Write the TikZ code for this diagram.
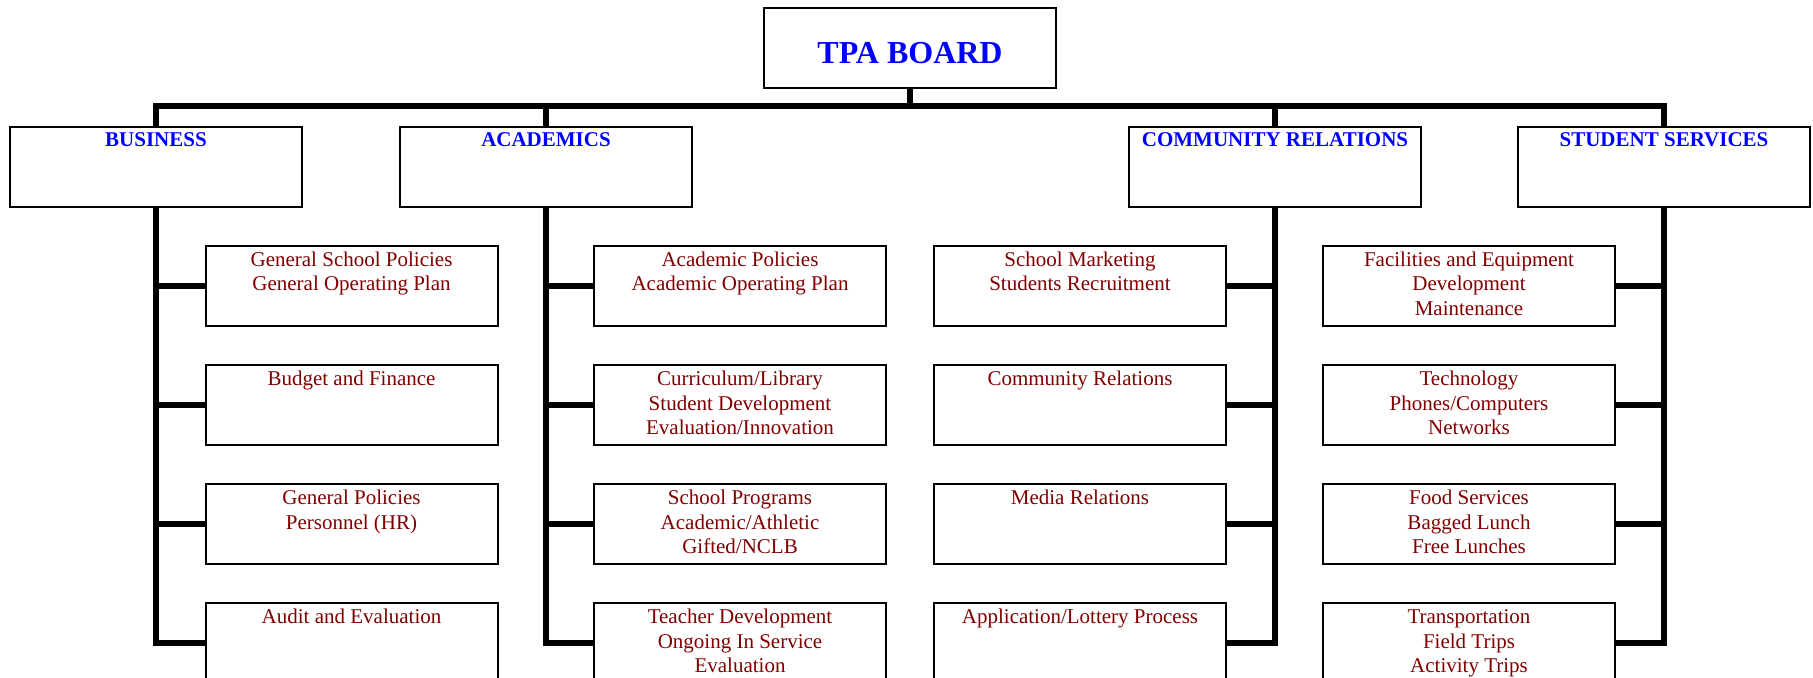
\documentclass[tikz,border=0pt]{standalone}
\usepackage{fontspec}
\setmainfont{Liberation Serif}
\definecolor{itemred}{RGB}{128,0,0}
\definecolor{headblue}{RGB}{0,0,255}
\newcommand\lns[1]{\begin{tabular}[t]{@{}c@{}}#1\end{tabular}}
\tikzset{
  box/.style={draw, line width=1pt, minimum width=146pt, minimum height=40pt, inner sep=0pt, anchor=north west, fill=white},
  conn/.style={line width=2.8pt},
  headtxt/.style={text=headblue, font=\bfseries\fontsize{10.5}{12.4}\selectfont, anchor=base, inner sep=0pt},
  boardtxt/.style={text=headblue, font=\bfseries\fontsize{16}{19}\selectfont, anchor=base, inner sep=0pt},
  itemtxt/.style={text=itemred, font=\fontsize{10.5}{12.4}\selectfont, anchor=base, inner sep=0pt},
}
\begin{document}
\begin{tikzpicture}[x=0.5pt,y=-0.5pt]
\useasboundingbox (0,0) rectangle (1813,678);
\clip (0,0) rectangle (1813,678);
% board
\node[box] (tpa) at (763,7.5) {};
\node[boardtxt] (tpat) at ([yshift=-28pt]tpa.north) {TPA BOARD};
% heads
\node[box] (bh) at (9,126) {};
\node[box] (ah) at (399,126) {};
\node[box] (ch) at (1128,126) {};
\node[box] (sh) at (1517,126) {};
\node[headtxt] (bht) at ([yshift=-10.4pt]bh.north) {BUSINESS};
\node[headtxt] (aht) at ([yshift=-10.4pt]ah.north) {ACADEMICS};
\node[headtxt] (cht) at ([yshift=-10.4pt]ch.north) {COMMUNITY RELATIONS};
\node[headtxt] (sht) at ([yshift=-10.4pt]sh.north) {STUDENT SERVICES};
% business children
\node[box] (b1) at (204.5,245) {};
\node[box] (b2) at (204.5,364) {};
\node[box] (b3) at (204.5,483) {};
\node[box] (b4) at (204.5,602) {};
\node[itemtxt] (b1t) at ([yshift=-10.6pt]b1.north) {\lns{General School Policies\\General Operating Plan}};
\node[itemtxt] (b2t) at ([yshift=-10.6pt]b2.north) {\lns{Budget and Finance}};
\node[itemtxt] (b3t) at ([yshift=-10.6pt]b3.north) {\lns{General Policies\\Personnel (HR)}};
\node[itemtxt] (b4t) at ([yshift=-10.6pt]b4.north) {\lns{Audit and Evaluation}};
% academics children
\node[box] (a1) at (593,245) {};
\node[box] (a2) at (593,364) {};
\node[box] (a3) at (593,483) {};
\node[box] (a4) at (593,602) {};
\node[itemtxt] (a1t) at ([yshift=-10.6pt]a1.north) {\lns{Academic Policies\\Academic Operating Plan}};
\node[itemtxt] (a2t) at ([yshift=-10.6pt]a2.north) {\lns{Curriculum/Library\\Student Development\\Evaluation/Innovation}};
\node[itemtxt] (a3t) at ([yshift=-10.6pt]a3.north) {\lns{School Programs\\Academic/Athletic\\Gifted/NCLB}};
\node[itemtxt] (a4t) at ([yshift=-10.6pt]a4.north) {\lns{Teacher Development\\Ongoing In Service\\Evaluation}};
% community children
\node[box] (c1) at (933,245) {};
\node[box] (c2) at (933,364) {};
\node[box] (c3) at (933,483) {};
\node[box] (c4) at (933,602) {};
\node[itemtxt] (c1t) at ([yshift=-10.6pt]c1.north) {\lns{School Marketing\\Students Recruitment}};
\node[itemtxt] (c2t) at ([yshift=-10.6pt]c2.north) {\lns{Community Relations}};
\node[itemtxt] (c3t) at ([yshift=-10.6pt]c3.north) {\lns{Media Relations}};
\node[itemtxt] (c4t) at ([yshift=-10.6pt]c4.north) {\lns{Application/Lottery Process}};
% student children
\node[box] (s1) at (1322,245) {};
\node[box] (s2) at (1322,364) {};
\node[box] (s3) at (1322,483) {};
\node[box] (s4) at (1322,602) {};
\node[itemtxt] (s1t) at ([yshift=-10.6pt]s1.north) {\lns{Facilities and Equipment\\Development\\Maintenance}};
\node[itemtxt] (s2t) at ([yshift=-10.6pt]s2.north) {\lns{Technology\\Phones/Computers\\Networks}};
\node[itemtxt] (s3t) at ([yshift=-10.6pt]s3.north) {\lns{Food Services\\Bagged Lunch\\Free Lunches}};
\node[itemtxt] (s4t) at ([yshift=-10.6pt]s4.north) {\lns{Transportation\\Field Trips\\Activity Trips}};
% connectors
\coordinate (bus) at (909,106);
\draw[conn] (tpa.south) -- (tpa.south |- bus);
\draw[conn] (bh.north) -- (bh.north |- bus) -- (sh.north |- bus) -- (sh.north);
\draw[conn] (ah.north) -- (ah.north |- bus);
\draw[conn] (ch.north) -- (ch.north |- bus);
% business branch
\draw[conn] (bh.south) |- (b4.west);
\draw[conn] (b1.west) -- (b1.west -| bh.south);
\draw[conn] (b2.west) -- (b2.west -| bh.south);
\draw[conn] (b3.west) -- (b3.west -| bh.south);
% academics branch
\draw[conn] (ah.south) |- (a4.west);
\draw[conn] (a1.west) -- (a1.west -| ah.south);
\draw[conn] (a2.west) -- (a2.west -| ah.south);
\draw[conn] (a3.west) -- (a3.west -| ah.south);
% community branch
\draw[conn] (ch.south) |- (c4.east);
\draw[conn] (c1.east) -- (c1.east -| ch.south);
\draw[conn] (c2.east) -- (c2.east -| ch.south);
\draw[conn] (c3.east) -- (c3.east -| ch.south);
% student branch
\draw[conn] (sh.south) |- (s4.east);
\draw[conn] (s1.east) -- (s1.east -| sh.south);
\draw[conn] (s2.east) -- (s2.east -| sh.south);
\draw[conn] (s3.east) -- (s3.east -| sh.south);
\end{tikzpicture}
\end{document}
